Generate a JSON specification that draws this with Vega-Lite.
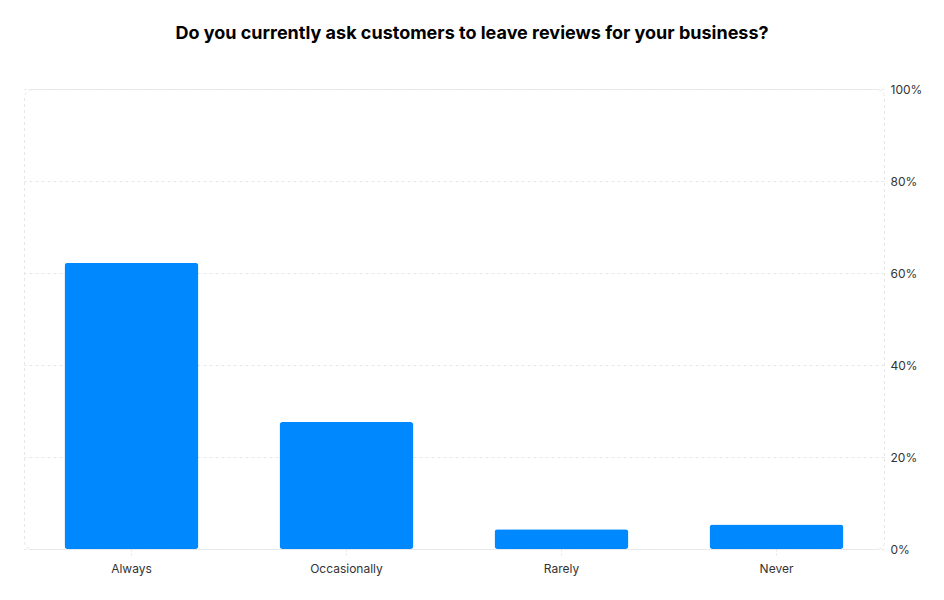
{
  "$schema": "https://vega.github.io/schema/vega-lite/v6.json",
  "width": 860,
  "height": 460,
  "autosize": {"type": "none"},
  "padding": {"left": 24, "top": 89, "right": 60, "bottom": 51},
  "background": "white",
  "title": {
    "text": "Do you currently ask customers to leave reviews for your business?",
    "font": "Inter",
    "fontSize": 18,
    "fontWeight": "bold",
    "color": "#000000",
    "anchor": "middle",
    "offset": 40,
    "dx": 18
  },
  "config": {
    "font": "Inter",
    "view": {"stroke": "#e6e6e6", "strokeDash": [3, 3], "cornerRadius": 8, "strokeWidth": 1}
  },
  "data": {
    "values": [
      {"answer": "Always", "share": 0.622},
      {"answer": "Occasionally", "share": 0.276},
      {"answer": "Rarely", "share": 0.043},
      {"answer": "Never", "share": 0.053}
    ]
  },
  "mark": {"type": "bar", "color": "#0088ff", "cornerRadius": 3},
  "encoding": {
    "x": {
      "field": "answer",
      "type": "nominal",
      "sort": null,
      "scale": {"paddingInner": 0.377, "paddingOuter": 0.1885},
      "axis": {
        "title": null,
        "labelAngle": 0,
        "labelFont": "Inter",
        "labelFontSize": 12,
        "labelColor": "#333333",
        "labelPadding": 6,
        "domain": false,
        "ticks": true,
        "tickColor": "#e6e6e6",
        "tickDash": [2, 2],
        "tickSize": 8,
        "grid": false
      }
    },
    "y": {
      "field": "share",
      "type": "quantitative",
      "scale": {"domain": [0, 1]},
      "axis": {
        "title": null,
        "orient": "right",
        "format": ".0%",
        "values": [0, 0.2, 0.4, 0.6, 0.8, 1],
        "labelFont": "Inter",
        "labelFontSize": 12,
        "labelColor": "#333333",
        "labelPadding": 6,
        "domain": false,
        "ticks": false,
        "grid": true,
        "gridColor": "#e6e6e6",
        "gridDash": [3, 3]
      }
    }
  }
}
